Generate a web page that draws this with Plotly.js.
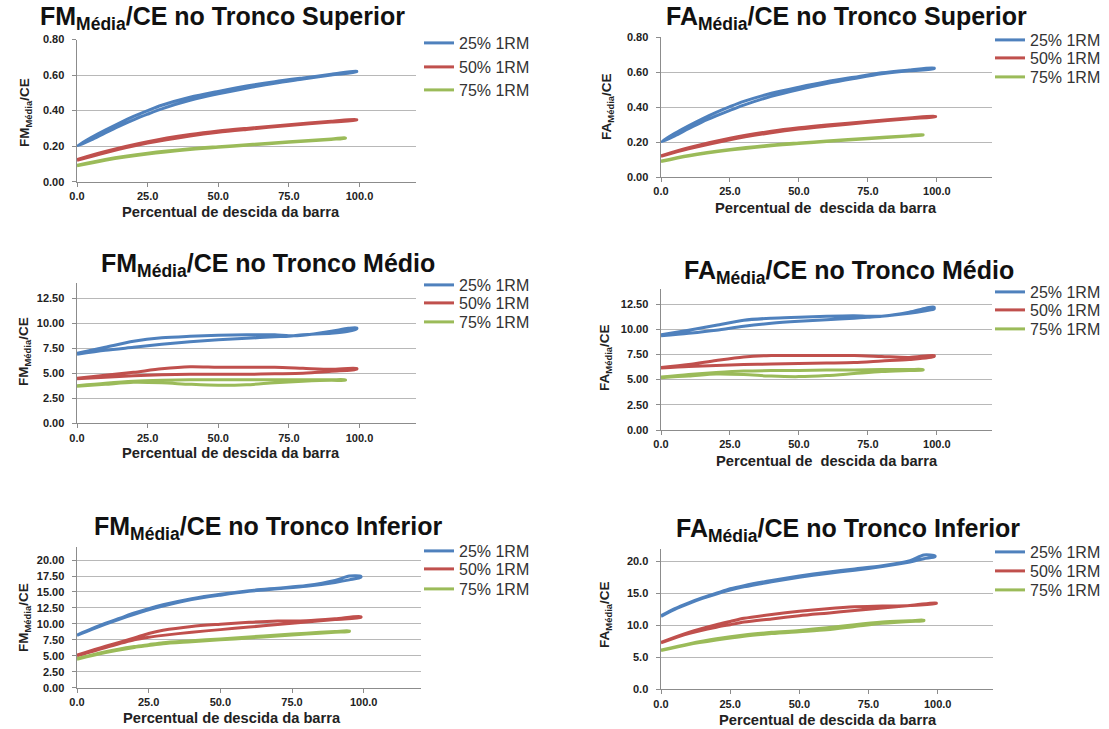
<!DOCTYPE html>
<html>
<head>
<meta charset="utf-8">
<script src="https://cdn.plot.ly/plotly-3.0.1.min.js"></script>
<style>html,body{margin:0;padding:0;background:#fff;}#chart{width:1109px;height:729px;}</style>
</head>
<body>
<div id="chart"></div>
<script>
// ---------- DATA ----------
const seriesNames = ["25% 1RM", "50% 1RM", "75% 1RM"];
const xTickVals = [0, 25, 50, 75, 100];

// Panel 1: FM Média / CE – Tronco Superior
const p1_x25 = [0,5,10,15,20,25,30,40,50,60,70,80,90,99];
const p1_up25 = [0.20,0.248,0.29,0.33,0.367,0.40,0.43,0.475,0.508,0.538,0.563,0.584,0.604,0.622];
const p1_lo25 = [0.20,0.235,0.275,0.313,0.348,0.38,0.41,0.458,0.495,0.526,0.554,0.577,0.60,0.618];
const p1_x50 = [0,10,25,40,50,60,75,90,99];
const p1_up50 = [0.125,0.17,0.225,0.265,0.285,0.30,0.32,0.34,0.35];
const p1_lo50 = [0.12,0.163,0.217,0.257,0.278,0.294,0.316,0.336,0.347];
const p1_x75 = [0,10,25,40,50,60,75,90,95];
const p1_up75 = [0.093,0.125,0.16,0.185,0.197,0.208,0.225,0.24,0.247];
const p1_lo75 = [0.089,0.121,0.156,0.181,0.194,0.205,0.222,0.238,0.245];

// Panel 2: FA Média / CE – Tronco Superior
const p2_x25 = [0,5,10,15,20,25,30,40,50,60,70,80,90,99];
const p2_up25 = [0.20,0.25,0.293,0.333,0.37,0.403,0.433,0.48,0.515,0.546,0.572,0.597,0.613,0.625];
const p2_lo25 = [0.20,0.236,0.277,0.316,0.35,0.382,0.412,0.462,0.501,0.535,0.564,0.591,0.609,0.62];
const p2_x50 = [0,10,25,40,50,60,75,90,99.5];
const p2_up50 = [0.122,0.168,0.222,0.262,0.282,0.298,0.318,0.338,0.348];
const p2_lo50 = [0.118,0.161,0.214,0.254,0.275,0.291,0.313,0.334,0.345];
const p2_x75 = [0,10,25,40,50,60,75,90,95];
const p2_up75 = [0.092,0.124,0.158,0.183,0.195,0.206,0.222,0.237,0.243];
const p2_lo75 = [0.088,0.12,0.154,0.179,0.192,0.203,0.219,0.235,0.241];

// Panel 3: FM Média / CE – Tronco Médio
const p3_x25 = [0,10,20,30,40,50,60,70,75,80,90,96,99];
const p3_up25 = [7.0,7.6,8.2,8.55,8.7,8.8,8.85,8.85,8.75,8.8,9.2,9.5,9.55];
const p3_lo25 = [6.9,7.3,7.6,7.9,8.15,8.35,8.5,8.65,8.7,8.85,9.0,9.2,9.45];
const p3_x50 = [0,10,20,30,40,50,60,70,80,90,99];
const p3_up50 = [4.5,4.8,5.1,5.45,5.65,5.6,5.6,5.6,5.5,5.4,5.5];
const p3_lo50 = [4.45,4.6,4.75,4.85,4.9,4.9,4.9,4.95,5.0,5.2,5.4];
const p3_x75 = [0,10,20,30,40,50,60,70,80,90,95];
const p3_up75 = [3.75,4.0,4.2,4.3,4.35,4.35,4.35,4.35,4.35,4.35,4.35];
const p3_lo75 = [3.7,3.9,4.1,4.05,3.9,3.8,3.85,4.05,4.2,4.3,4.3];

// Panel 4: FA Média / CE – Tronco Médio
const p4_x25 = [0,10,20,30,40,50,60,70,75,80,90,96,99];
const p4_up25 = [9.45,9.9,10.4,10.9,11.1,11.2,11.3,11.35,11.3,11.3,11.7,12.1,12.2];
const p4_lo25 = [9.35,9.6,9.9,10.3,10.6,10.8,10.95,11.1,11.2,11.3,11.6,11.85,12.0];
const p4_x50 = [0,10,20,30,40,50,60,70,80,90,99];
const p4_up50 = [6.2,6.5,6.9,7.25,7.4,7.4,7.4,7.4,7.3,7.2,7.4];
const p4_lo50 = [6.15,6.3,6.4,6.5,6.55,6.6,6.65,6.7,6.85,7.0,7.3];
const p4_x75 = [0,10,20,30,40,50,60,70,80,90,95];
const p4_up75 = [5.25,5.5,5.7,5.85,5.9,5.9,5.95,5.95,6.0,6.0,6.0];
const p4_lo75 = [5.2,5.35,5.55,5.5,5.35,5.3,5.4,5.6,5.8,5.9,5.95];

// Panel 5: FM Média / CE – Tronco Inferior
const p5_x25 = [0,5,10,15,20,25,30,40,50,60,70,80,90,95,99];
const p5_up25 = [8.25,9.2,10.1,10.9,11.7,12.4,13.0,13.95,14.65,15.2,15.6,16.0,16.8,17.5,17.45];
const p5_lo25 = [8.2,9.1,9.95,10.75,11.5,12.2,12.8,13.8,14.5,15.1,15.5,15.9,16.5,16.9,17.3];
const p5_x50 = [0,10,20,25,30,40,50,60,70,80,90,99];
const p5_up50 = [5.1,6.5,7.8,8.5,9.0,9.6,9.95,10.25,10.45,10.5,10.8,11.15];
const p5_lo50 = [5.0,6.3,7.5,7.9,8.2,8.7,9.1,9.5,9.9,10.3,10.7,11.0];
const p5_x75 = [0,10,20,25,30,40,50,60,70,80,90,95];
const p5_up75 = [4.55,5.65,6.45,6.75,7.05,7.35,7.65,7.95,8.25,8.55,8.8,8.9];
const p5_lo75 = [4.45,5.5,6.3,6.6,6.9,7.2,7.5,7.8,8.1,8.4,8.7,8.8];

// Panel 6: FA Média / CE – Tronco Inferior
const p6_x25 = [0,5,10,15,20,25,30,40,50,60,70,80,90,95,99];
const p6_up25 = [11.5,12.6,13.5,14.3,15.0,15.7,16.2,17.0,17.7,18.3,18.8,19.3,20.1,21.0,20.85];
const p6_lo25 = [11.4,12.5,13.4,14.2,14.9,15.5,16.0,16.8,17.5,18.1,18.6,19.2,19.9,20.4,20.7];
const p6_x50 = [0,10,20,25,30,40,50,60,70,80,90,99.5];
const p6_up50 = [7.35,8.9,10.1,10.6,11.1,11.7,12.2,12.6,12.9,13.0,13.1,13.5];
const p6_lo50 = [7.25,8.7,9.7,10.1,10.5,11.0,11.5,11.9,12.3,12.7,13.1,13.4];
const p6_x75 = [0,10,20,30,40,50,60,70,80,90,95];
const p6_up75 = [6.15,7.1,7.9,8.5,8.9,9.2,9.6,10.1,10.5,10.7,10.8];
const p6_lo75 = [6.05,7.0,7.7,8.3,8.7,9.0,9.3,9.8,10.3,10.6,10.7];

const titles = [
  "FM<sub>Média</sub>/CE no Tronco Superior",
  "FA<sub>Média</sub>/CE no Tronco Superior",
  "FM<sub>Média</sub>/CE no Tronco Médio",
  "FA<sub>Média</sub>/CE no Tronco Médio",
  "FM<sub>Média</sub>/CE no Tronco Inferior",
  "FA<sub>Média</sub>/CE no Tronco Inferior"
];
const yTitles = ["FM<sub>Média</sub>/CE","FA<sub>Média</sub>/CE","FM<sub>Média</sub>/CE","FA<sub>Média</sub>/CE","FM<sub>Média</sub>/CE","FA<sub>Média</sub>/CE"];
const xTitles = ["Percentual de descida da barra","Percentual de  descida da barra","Percentual de descida da barra","Percentual de  descida da barra","Percentual de descida da barra","Percentual de descida da barra"];
const yRanges = [[0,0.8],[0,0.8],[0,14],[0,14],[0,22],[0,22]];
const yDticks = [0.2,0.2,2.5,2.5,2.5,5];
const yFormats = [".2f",".2f",".2f",".2f",".2f",".1f"];

// ---------- BUILD ----------
const panels = [
  [[p1_x25,p1_up25,p1_lo25],[p1_x50,p1_up50,p1_lo50],[p1_x75,p1_up75,p1_lo75]],
  [[p2_x25,p2_up25,p2_lo25],[p2_x50,p2_up50,p2_lo50],[p2_x75,p2_up75,p2_lo75]],
  [[p3_x25,p3_up25,p3_lo25],[p3_x50,p3_up50,p3_lo50],[p3_x75,p3_up75,p3_lo75]],
  [[p4_x25,p4_up25,p4_lo25],[p4_x50,p4_up50,p4_lo50],[p4_x75,p4_up75,p4_lo75]],
  [[p5_x25,p5_up25,p5_lo25],[p5_x50,p5_up50,p5_lo50],[p5_x75,p5_up75,p5_lo75]],
  [[p6_x25,p6_up25,p6_lo25],[p6_x50,p6_up50,p6_lo50],[p6_x75,p6_up75,p6_lo75]]
];
const colors = ["#4F81BD", "#C0504D", "#9BBB59"];

const W = 1109, H = 729;
const fx = v => v / W;
const fy = v => 1 - v / H;

// plot area pixel boxes [left, right(x=120), top(ymax), bottom(y=0)]
const boxes = [
  [77, 416, 39.5, 181.7],
  [661, 992, 37.4, 177],
  [77, 416, 283.3, 423.3],
  [661, 992, 289, 430],
  [77, 421, 547.3, 687.7],
  [661, 993, 548.5, 689.3]
];
const titlePos = [[222,18],[846,18],[268,265],[849,272],[268,528],[848,530]];
const xTitlePos = [[231,212],[826,208],[231,453],[827,461],[232,718],[828,720]];
const yTitlePos = [[25,113],[607,107],[24,352],[605,358],[24,618],[605,615]];
// legend: [line-start x, row centre y for each series]
const legendX = [424, 995, 424, 995, 424, 995];
const legendRows = [[43,67,90],[40,58,77],[285,303,322],[292,310,329],[551,569,589],[552,571,590]];

const FONT = "Liberation Sans, Arial, sans-serif";
const traces = [];
const layout = {
  width: W, height: H,
  margin: {l:0, r:0, t:0, b:0, autoexpand:false},
  paper_bgcolor: "#fff", plot_bgcolor: "#fff",
  font: {family: FONT, color: "#222"},
  annotations: [],
  showlegend: true
};

let legCount = 0;
panels.forEach((ser, i) => {
  const n = i + 1;
  const xa = "x" + (n === 1 ? "" : n), ya = "y" + (n === 1 ? "" : n);
  ser.forEach((s, k) => {
    const [xs, up, lo] = s;
    legCount++;
    const legName = "legend" + (legCount === 1 ? "" : legCount);
    traces.push({
      type: "scatter", mode: "lines",
      x: xs.concat(xs.slice().reverse()),
      y: up.concat(lo.slice().reverse()),
      name: seriesNames[k],
      xaxis: xa, yaxis: ya,
      legend: legName,
      line: {color: colors[k], width: 3, shape: "spline", smoothing: 0.8},
      hoverinfo: "skip"
    });
    layout[legName] = {
      x: fx(legendX[i] - 5), y: fy(legendRows[i][k]),
      xanchor: "left", yanchor: "middle",
      bgcolor: "rgba(0,0,0,0)", borderwidth: 0,
      font: {family: FONT, size: 16, color: "#333"},
      itemclick: false, itemdoubleclick: false
    };
  });
  const b = boxes[i];
  const axKey = n === 1 ? "" : n;
  layout["xaxis" + axKey] = {
    domain: [fx(b[0]), fx(b[1])], range: [0, 120], anchor: ya,
    tickvals: xTickVals, tickformat: ".1f",
    showgrid: false, zeroline: false,
    showline: true, linecolor: "#8C8C8C", linewidth: 1,
    ticks: "outside", ticklen: 4, tickcolor: "#8C8C8C",
    tickfont: {family: FONT, size: 11, weight: 700, color: "#222"},
    fixedrange: true
  };
  layout["yaxis" + axKey] = {
    domain: [fy(b[3]), fy(b[2])], range: yRanges[i], anchor: xa,
    dtick: yDticks[i], tick0: 0, tickformat: yFormats[i],
    showgrid: true, gridcolor: "#B8B8B8", gridwidth: 1, zeroline: false,
    showline: true, linecolor: "#8C8C8C", linewidth: 1.5,
    ticks: "outside", ticklen: 4, tickcolor: "#8C8C8C",
    ticklabelstandoff: 5,
    tickfont: {family: FONT, size: 11, weight: 700, color: "#222"},
    fixedrange: true
  };
  layout.annotations.push({
    text: "<b>" + titles[i] + "</b>", showarrow: false,
    xref: "paper", yref: "paper",
    x: fx(titlePos[i][0]), y: fy(titlePos[i][1]),
    xanchor: "center", yanchor: "middle",
    font: {family: FONT, size: 25, color: "#111"}
  });
  layout.annotations.push({
    text: "<b>" + xTitles[i] + "</b>", showarrow: false,
    xref: "paper", yref: "paper",
    x: fx(xTitlePos[i][0]), y: fy(xTitlePos[i][1]),
    xanchor: "center", yanchor: "middle",
    font: {family: FONT, size: 14.7, color: "#222"}
  });
  layout.annotations.push({
    text: "<b>" + yTitles[i] + "</b>", showarrow: false, textangle: -90,
    xref: "paper", yref: "paper",
    x: fx(yTitlePos[i][0]), y: fy(yTitlePos[i][1]),
    xanchor: "center", yanchor: "middle",
    font: {family: FONT, size: 13.5, color: "#222"}
  });
});

Plotly.newPlot("chart", traces, layout, {displayModeBar: false, staticPlot: true});
</script>
</body>
</html>
